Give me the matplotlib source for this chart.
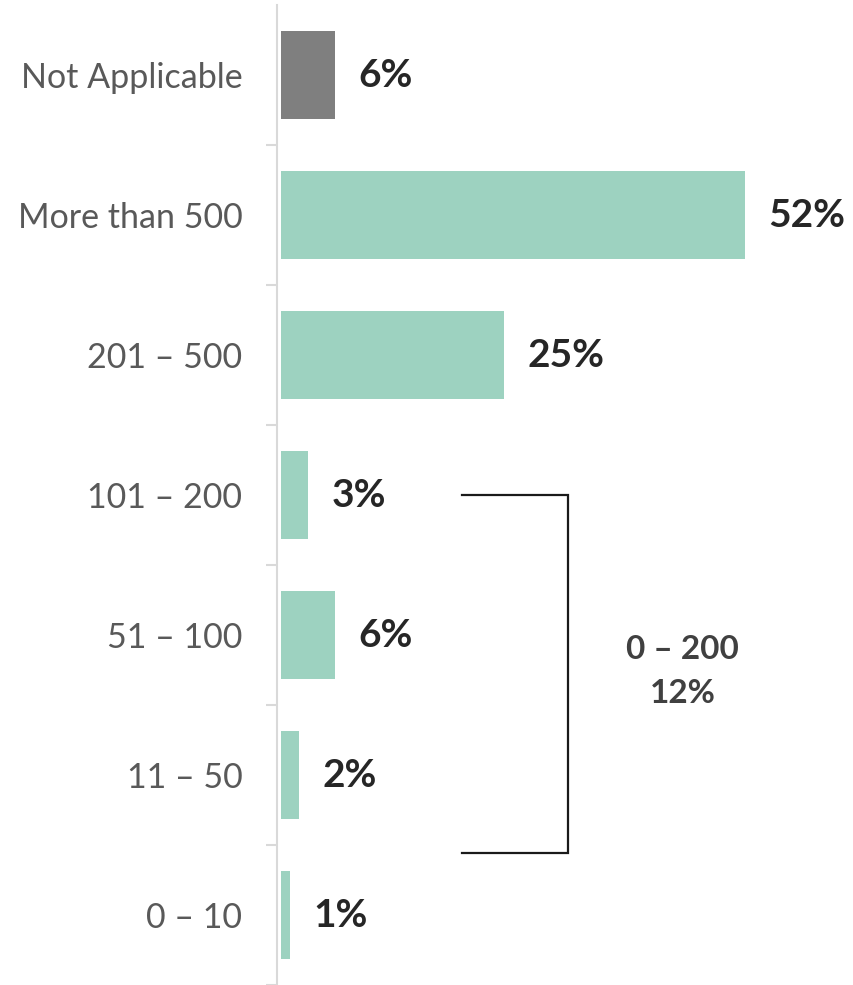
import matplotlib
matplotlib.use("Agg")
import matplotlib.pyplot as plt
from matplotlib.ticker import FixedLocator

# Survey responses by size band (percent of respondents)
categories = ["Not Applicable", "More than 500", "201 – 500", "101 – 200",
              "51 – 100", "11 – 50", "0 – 10"]
values = [6, 52, 25, 3, 6, 2, 1]
value_labels = ["6%", "52%", "25%", "3%", "6%", "2%", "1%"]
group_title = "0 – 200"
group_value = "12%"

TEAL = "#9dd2c0"
GREY_BAR = "#7f7f7f"
bar_colors = [GREY_BAR] + [TEAL] * (len(categories) - 1)

plt.rcParams["font.family"] = ["Lato", "DejaVu Sans"]

W, H = 854, 985
fig = plt.figure(figsize=(W / 100, H / 100), dpi=100)
ax_left = 277 / W
ax_right = 834 / W
ax = fig.add_axes([ax_left, 0.0, ax_right - ax_left, 980 / H])

y = list(range(len(categories)))
ax.barh(y, values, height=0.63, color=bar_colors, left=0)

ax.set_ylim(len(categories) - 0.5, -0.5)
ax.set_xlim(-0.45, 62)

# Axis styling: only a light left spine with separators between categories
for s in ["top", "right", "bottom"]:
    ax.spines[s].set_visible(False)
ax.spines["left"].set_color("#d9d9d9")
ax.spines["left"].set_linewidth(1.5)
ax.set_xticks([])
ax.set_yticks(y)
ax.set_yticklabels(categories, fontsize=24.5, color="#595959")
ax.tick_params(axis="y", which="major", length=0, pad=25)
ax.yaxis.set_minor_locator(FixedLocator([i + 0.5 for i in range(len(categories))]))
ax.tick_params(axis="y", which="minor", length=8, width=1.5, color="#d9d9d9")

# Value labels at the end of each bar
for yi, v, lab in zip(y, values, value_labels):
    ax.annotate(lab, xy=(v, yi), xytext=(17, 0), textcoords="offset points",
                ha="left", va="center", fontsize=28, fontweight="bold",
                color="#262626")

# Bracket grouping the four smallest bands
bx0, bx1 = 20.3, 32.2
top_y = 3
bot_y = 5.56
ax.plot([bx0, bx1, bx1, bx0], [top_y, top_y, bot_y, bot_y],
        color="#1a1a1a", lw=1.6, solid_joinstyle="miter", clip_on=False)
ax.text(45.0, 4.1, group_title, ha="center", va="center", fontsize=24,
        fontweight="bold", color="#404040")
ax.text(45.0, 4.42, group_value, ha="center", va="center", fontsize=24,
        fontweight="bold", color="#404040")

fig.savefig("out.png", dpi=100)
